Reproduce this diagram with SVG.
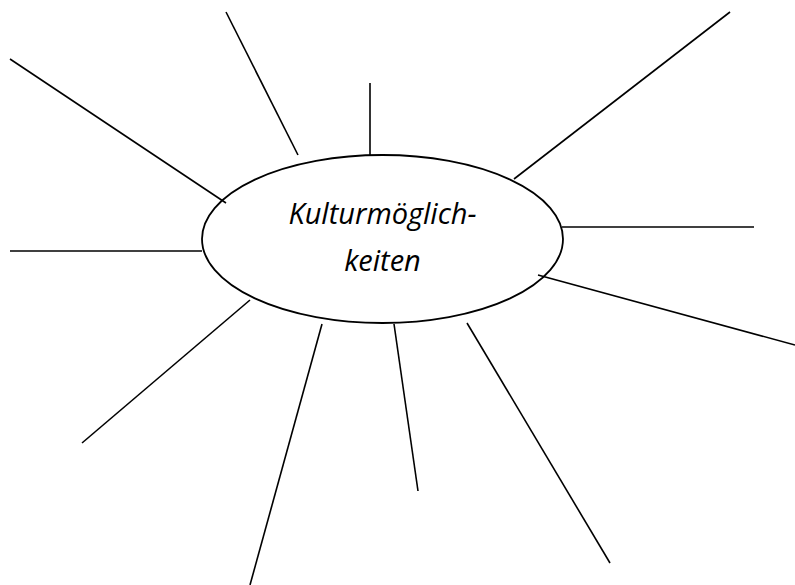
<svg xmlns="http://www.w3.org/2000/svg" width="795" height="585" viewBox="0 0 795 585">
<style>
.c{stroke:#000;stroke-width:1.6;fill:none}
.n{stroke:#000;stroke-width:1.8;fill:#fff}
.t{font-family:"Open Sans","Liberation Sans",sans-serif;font-style:italic;font-size:29px;fill:#000;text-anchor:middle}
</style>
<rect width="795" height="585" fill="#fff"/>
<g id="center">
<ellipse class="n" cx="382.5" cy="239" rx="180.5" ry="84"/>
<text class="t" x="382.5" y="224">Kulturmöglich-</text>
<text class="t" x="382.5" y="271">keiten</text>
</g>
<g id="connectors">
<line class="c" x1="226" y1="12" x2="298" y2="155"/>
<line class="c" x1="370" y1="83" x2="370" y2="155"/>
<line class="c" x1="10" y1="59" x2="226" y2="203"/>
<line class="c" x1="730" y1="12" x2="514" y2="179"/>
<line class="c" x1="562" y1="227" x2="754" y2="227"/>
<line class="c" x1="10" y1="251" x2="202" y2="251"/>
<line class="c" x1="538" y1="275" x2="795" y2="345"/>
<line class="c" x1="250" y1="300" x2="82" y2="443"/>
<line class="c" x1="322" y1="324" x2="250" y2="585"/>
<line class="c" x1="394" y1="324" x2="418" y2="491"/>
<line class="c" x1="467" y1="323" x2="610" y2="563"/>
</g>
</svg>
